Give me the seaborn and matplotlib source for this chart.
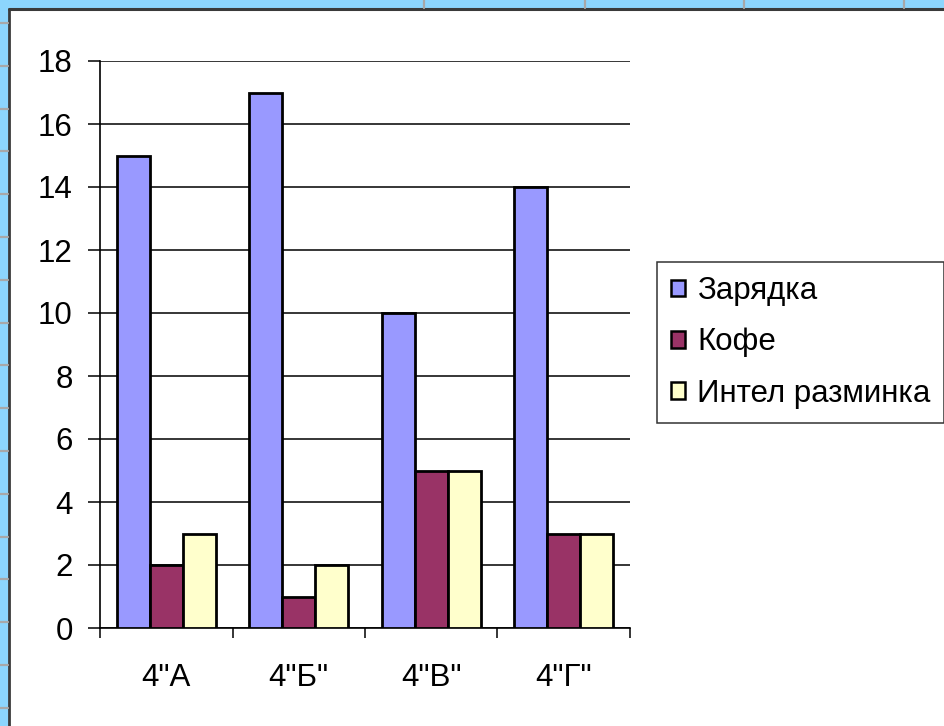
import matplotlib
matplotlib.use("Agg")
import matplotlib.pyplot as plt
import seaborn as sns
import pandas as pd
from matplotlib.patches import Rectangle
from matplotlib.lines import Line2D
from matplotlib.ticker import FixedLocator, NullFormatter, FixedFormatter

classes = ['4"А', '4"Б"', '4"В"', '4"Г"']
series_names = ["Зарядка", "Кофе", "Интел разминка"]
zaryadka = [15, 17, 10, 14]
kofe = [2, 1, 5, 3]
intel = [3, 2, 5, 3]
colors = ["#9999FF", "#993366", "#FFFFCC"]
yticks = [0, 2, 4, 6, 8, 10, 12, 14, 16, 18]

rows = []
for name, vals in zip(series_names, [zaryadka, kofe, intel]):
    for c, v in zip(classes, vals):
        rows.append({"class": c, "series": name, "value": v})
df = pd.DataFrame(rows)

sns.set_style("white")
plt.rcParams["font.family"] = ["Liberation Sans", "DejaVu Sans"]
plt.rcParams["text.color"] = "black"
plt.rcParams["xtick.color"] = "black"
plt.rcParams["ytick.color"] = "black"
FS = 22.5

W, H = 944, 726
fig = plt.figure(figsize=(W / 100, H / 100), dpi=100)
fig.patch.set_facecolor("#8CD5FD")

# spreadsheet-like frame
fig.add_artist(Rectangle((9 / W, 0), 1 - 9 / W, 1 - 9 / H, transform=fig.transFigure,
                         facecolor="white", edgecolor="none", zorder=0))
fig.add_artist(Line2D([9 / W, 9 / W], [0, 1 - 9 / H], transform=fig.transFigure,
                      color="#3a3a3a", lw=2, zorder=1))
fig.add_artist(Line2D([9 / W, 1], [1 - 9 / H, 1 - 9 / H], transform=fig.transFigure,
                      color="#3a3a3a", lw=2.2, zorder=1))
y = 23
while y < H:
    fig.add_artist(Line2D([0, 8 / W], [1 - y / H, 1 - y / H], transform=fig.transFigure,
                          color="#A8A8A8", lw=1.6, zorder=1))
    y += 42.8
for x in [424, 585, 744, 904]:
    fig.add_artist(Line2D([x / W, x / W], [1, 1 - 8 / H], transform=fig.transFigure,
                          color="#A8A8A8", lw=1.6, zorder=1))

ax = fig.add_axes([100 / W, 1 - 628 / H, (630 - 100) / W, (628 - 61) / H])
ax.set_facecolor("none")
sns.barplot(data=df, x="class", y="value", hue="series", palette=colors,
            width=0.75, gap=0, edgecolor="black", linewidth=2.0, saturation=1,
            ax=ax, zorder=3)

ax.set_xlim(-0.5, 3.5)
ax.set_ylim(0, 18)
ax.set_yticks(yticks)
ax.set_yticklabels([str(t) for t in yticks], fontsize=FS)
ax.yaxis.grid(True, color="black", linewidth=1.1)
ax.set_axisbelow(True)
for b in ax.patches:
    b.set_zorder(3)

ax.xaxis.set_major_locator(FixedLocator([-0.5, 0.5, 1.5, 2.5, 3.5]))
ax.xaxis.set_major_formatter(NullFormatter())
ax.xaxis.set_minor_locator(FixedLocator([0, 1, 2, 3]))
ax.xaxis.set_minor_formatter(FixedFormatter(classes))
ax.tick_params(axis="x", which="major", direction="out", length=7.2, width=1.1,
               color="black", bottom=True)
ax.tick_params(axis="x", which="minor", length=0, pad=25, labelsize=FS, labelcolor="black")
ax.tick_params(axis="y", direction="out", length=8.6, width=1.1, color="black",
               pad=11, left=True, labelcolor="black")
ax.set_xlabel("")
ax.set_ylabel("")
for s in ["top", "right"]:
    ax.spines[s].set_visible(False)
for s in ["left", "bottom"]:
    ax.spines[s].set_color("black")
    ax.spines[s].set_linewidth(1.2)

if ax.get_legend() is not None:
    ax.get_legend().remove()
handles = [Rectangle((0, 0), 1, 1, facecolor=c, edgecolor="black", lw=1.8) for c in colors]
leg = fig.legend(handles, series_names, loc="upper left",
                 bbox_to_anchor=(657 / W, 1 - 262 / H), bbox_transform=fig.transFigure,
                 fontsize=FS, frameon=True, fancybox=False, handlelength=0.45,
                 handleheight=0.45, handletextpad=0.38, labelspacing=0.68,
                 borderpad=0.45, borderaxespad=0)
leg.get_frame().set_edgecolor("black")
leg.get_frame().set_linewidth(1.1)
for t in leg.get_texts():
    t.set_color("black")

fig.savefig("out.png", dpi=100, facecolor=fig.get_facecolor())
